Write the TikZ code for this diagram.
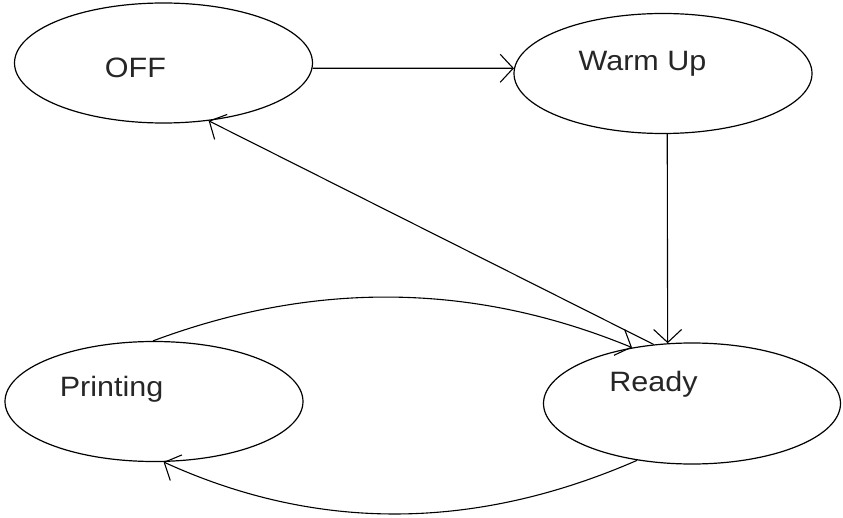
\documentclass[tikz,border=0pt]{standalone}
\usepackage{graphicx}
\usepackage{fontspec}
\setmainfont{Liberation Sans}
\usetikzlibrary{shapes.geometric,arrows.meta}
\begin{document}
\begin{tikzpicture}[x=1pt,y=-1pt,
  state/.style={ellipse,draw=black,line width=1.2pt,minimum width=298pt,minimum height=120pt,inner sep=0pt},
  statename/.style={anchor=base,inner sep=0pt,text=black!85,font=\fontsize{28}{34}\selectfont},
  flow/.style={draw=black,line width=1.1pt,-{Straight Barb[length=13pt,width=28pt,line width=1.1pt]}}
]
\useasboundingbox (0,0) rectangle (843,518);

% states
\node[state] (off)      at (163.5,63)  {};
\node[state] (warm)     at (663,73.5)  {};
\node[state] (printing) at (154,401.5) {};
\node[state,minimum width=297pt,minimum height=121pt] (ready) at (692,403.5) {};

% state names, set off-centre inside each ellipse
\node[statename] (offname)      at (135.5,78) {\scalebox{1.09}[1]{OFF}};
\node[statename] (warmname)     at (642.5,71) {\scalebox{1.09}[1]{Warm Up}};
\node[statename] (printingname) at (111.5,396) {\scalebox{1.09}[1]{Printing}};
\node[statename] (readyname)    at (653.5,391) {\scalebox{1.09}[1]{Ready}};

% transitions
\draw[flow] (off.-2) -- (warm.178);
\draw[flow] (warm.-86.2) -- (ready.112.4);
\draw[flow] (ready.123.7) -- (off.-52.8);
\draw[flow] (printing.91) .. controls (316,280) and (475,283) .. (ready.137.3);
\draw[flow] (ready.-134.4) .. controls (475,531) and (317,532) .. (printing.-81.5);
\end{tikzpicture}
\end{document}
